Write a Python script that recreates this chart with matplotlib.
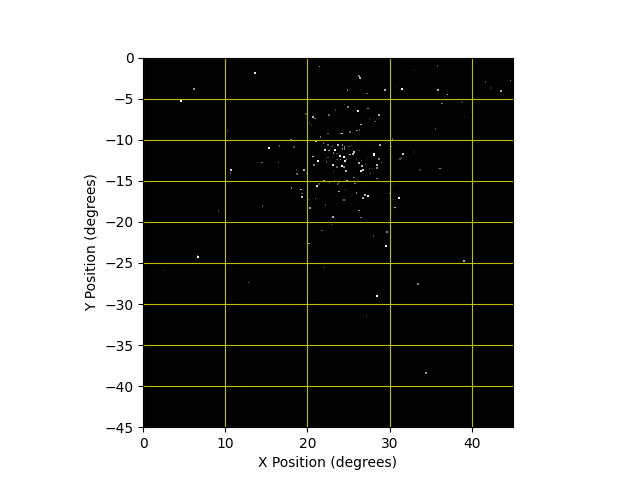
import numpy as np
import matplotlib
matplotlib.use("Agg")
import matplotlib.pyplot as plt

# star positions in degrees, with brightness 0-1
x_left = [4.55, 13.65, 21.45, 6.2, 19.8, 20.65, 20.95, 20.25, 20.5, 10.25, 18, 21.6, 21.05, 21.95, 15.35,
          16.6, 18.35, 22.15, 20.65, 21.3, 20.8, 22.3, 14.45, 16.45, 10.7, 10.6, 19.6, 18.65, 18.75, 19.9,
          19.4, 22.05, 21.2, 21.45, 18.05, 19.2, 19.35, 19.35, 20.1, 20.95, 22.2, 14.5, 20.3, 9.15, 21.8]
y_left = [-5.33, -1.91, -1.1, -3.85, -6.85, -7.2, -7.4, -7.9, -8.2, -8.95, -9.95, -9.7, -10.2, -10.4, -10.95,
          -10.75, -10.9, -11.3, -12.05, -12.6, -13.1, -12.7, -12.8, -12.8, -13.7, -14.05, -13.65, -13.65, -14.15, -14.05,
          -14.5, -14.95, -15.6, -15.4, -15.85, -16.05, -16.55, -17, -17.3, -17.15, -17.95, -18.05, -18.35, -18.65, -21.05]
b_left = [1, .9, .6, .6, .3, .7, .5, .4, .2, .25, .5, .5, .8, .4, 1,
          .4, .3, .8, .8, 1, .5, .3, .4, .4, .8, .4, .7, .3, .4, .25,
          .2, .6, .9, .4, .5, .7, .45, .7, .3, .4, .25, .3, .6, .3, .4]

x_top = [26.3, 26.4, 24.85, 27.25, 29.4, 30.75, 31.55, 32.95, 35.85, 35.9, 37.05, 41.65, 44.7, 43.55, 42.35,
         36.4, 38.8, 24.5, 24.9, 23.4, 26.15, 27.4, 28.75, 22.65, 27.55, 28.25, 26.55, 39.15, 35.6, 26.35,
         26.05, 25.2, 24.25, 23.95, 22.5, 25.75, 30.35, 28.85, 27.95, 30.25]
y_top = [-2.25, -2.5, -3.95, -4.4, -3.9, -3.55, -3.8, -1.6, -1, -3.9, -4.5, -2.95, -2.8, -4.1, -3.7,
         -5.6, -5.4, -5.7, -6.05, -6.4, -6.55, -6.2, -6.95, -7, -7.45, -7.8, -8.15, -7.2, -8.7, -8.8,
         -8.9, -9.05, -9.25, -9.25, -9.25, -9.95, -9.9, -10.65, -10.7, -10.85]
b_top = [.5, .7, .5, .4, .7, .2, 1, .15, .3, .7, .8, .3, .5, .7, .15,
         .5, .2, .3, .5, .3, .9, .5, .7, .4, .2, .4, .7, .2, .3, .3,
         .5, .4, .8, .3, .4, .2, .4, .7, .15, .4]

x_core = [23.75, 24.25, 24.5, 25.05, 25.35, 23.0, 22.5, 23.4, 22.65, 24.25, 24.5, 25.7, 26.25, 23.15, 23.6,
          24, 24.45, 25.2, 25.5, 28.15, 31.65, 32.9, 31.45, 31.25, 28.7, 27.2, 22.5, 23.6, 24, 24.55,
          24.75, 26.6, 25.95, 26.3, 29, 28.5, 27.05, 23.1, 24.2, 24.45, 23.6, 26.65, 28.5, 27.55, 27.9,
          26.8, 26.55, 23.2, 24.65, 36.15, 33.7, 27.65, 25.7, 28.5, 24.85, 23.3, 22.7, 23.9, 23.7, 25.8,
          30.45, 26.7, 23.85, 24.75, 24.55, 25.95, 27.05, 27.35, 26.8, 30.05, 31.1, 30.45, 24.45, 30.7, 26.3,
          23.15, 26.5, 30.45, 22.9, 29.7, 28.05]
y_core = [-10.6, -10.65, -10.85, -10.85, -10.7, -10.8, -10.65, -11.25, -11.3, -11.1, -11.1, -11.5, -11.3, -11.65, -11.7,
          -11.95, -12.1, -11.8, -11.75, -11.8, -11.75, -11.5, -12.25, -12.35, -12.35, -12.2, -12.15, -12.4, -12.4, -12.6,
          -12.4, -12.5, -12.35, -12.85, -12.75, -13.05, -13, -13.05, -13.2, -13.35, -13.3, -13.2, -13.45, -13.5, -13.55,
          -13.65, -13.75, -13.85, -13.85, -13.5, -13.7, -14.1, -14.6, -14.7, -14.95, -14.95, -15.2, -15.2, -15.4, -15.35,
          -15.4, -15.6, -16.3, -16, -16.15, -16.45, -16.75, -16.9, -17.1, -16.55, -17.15, -17.25, -17.35, -18.25, -18.6,
          -19.45, -19.45, -19.25, -20.3, -21.2, -21.7]
b_core = [.7, .5, .5, .4, .3, .3, .4, 1, .6, .5, .5, .8, .2, .5, .3,
          .9, 1, .7, .7, 1, .8, .2, .3, .3, .5, .15, .3, .3, .5, 1,
          .5, .4, .15, .7, .4, .7, .2, .9, 1, .5, .4, .7, .5, .3, .2,
          .8, .9, .3, .7, .6, .2, .5, .5, .5, .7, .2, .5, .4, .3, .5,
          .15, .15, .7, .15, .15, .5, .7, 1, .7, .5, 1, .3, .4, .7, .6,
          .7, .5, .1, .3, .5, .3]

x_low = [6.65, 6.6, 2.45, 12.8, 20.15, 21.95, 29.55, 39.05, 33.45, 28.45, 27.2, 34.4]
y_low = [-24.25, -24.1, -25.95, -27.4, -22.65, -25.55, -22.95, -24.8, -27.6, -29.05, -31.5, -38.4]
b_low = [1, .4, .3, .45, .6, .35, .9, .7, .5, 1, .4, .6]

x = np.array(x_left + x_top + x_core + x_low)
y = np.array(y_left + y_top + y_core + y_low)
b = np.array(b_left + b_top + b_core + b_low)

fig, ax = plt.subplots()
ax.set_facecolor("black")
ax.scatter(x, y, c=b, cmap="gray", vmin=0, vmax=1, s=1.0 + 1.2 * b**2, marker="s", linewidths=0, zorder=1)
ax.grid(True, color="y")
ax.set_xlim(0, 45)
ax.set_ylim(-45, 0)
ax.set_aspect("equal")
ax.set_xlabel("X Position (degrees)")
ax.set_ylabel("Y Position (degrees)")
plt.savefig("out.png", dpi=100)
